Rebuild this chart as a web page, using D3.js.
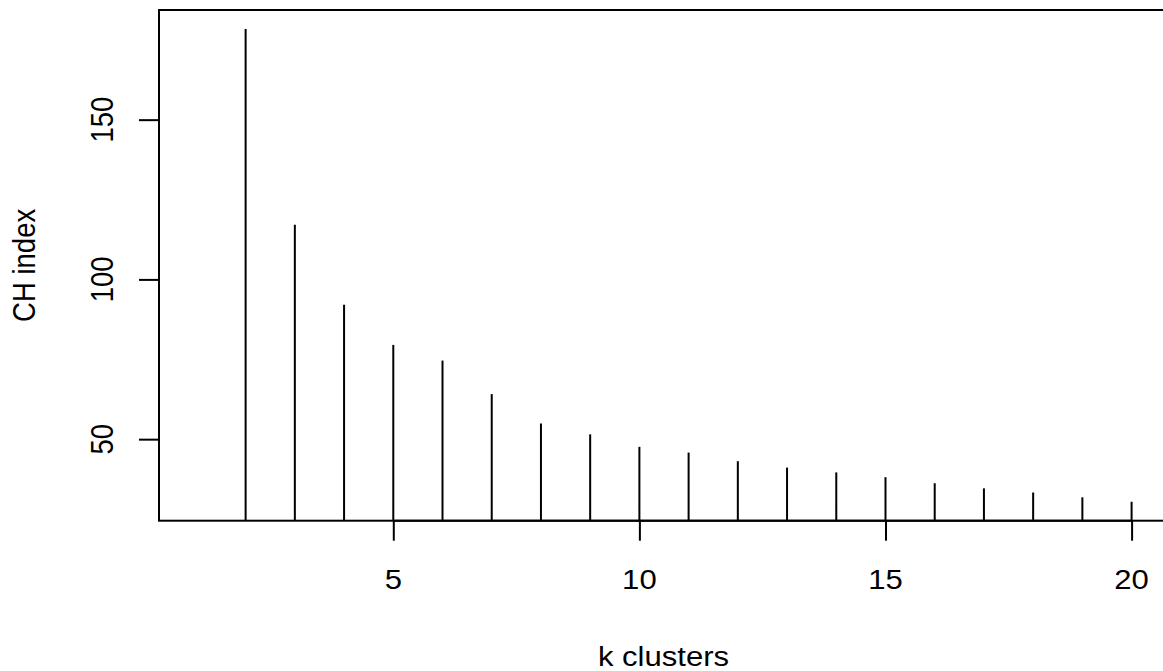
<!DOCTYPE html>
<html>
<head>
<meta charset="utf-8">
<script src="https://cdn.jsdelivr.net/npm/d3@7"></script>
<style>
  html, body { margin: 0; padding: 0; background: #ffffff; }
  svg { display: block; }
  text { font-family: "Liberation Sans", Arial, Helvetica, sans-serif; fill: #000; }
</style>
</head>
<body>
<svg id="chart" width="1163" height="671"></svg>
<script>
// Data: Calinski-Harabasz index per number of clusters (k = 1 undefined)
const kValues = [1, 2, 3, 4, 5, 6, 7, 8, 9, 10, 11, 12, 13, 14, 15, 16, 17, 18, 19, 20];
const chIndex = [null, 178.4, 117.1, 92.1, 79.5, 74.6, 64.1, 54.9, 51.5, 47.6, 45.8, 43.1, 41.1, 39.6, 38.1, 36.2, 34.6, 33.3, 31.8, 30.4];
const xTicks = [5, 10, 15, 20];
const yTicks = [50, 100, 150];
const xTitle = "k clusters";
const yTitle = "CH index";

const svg = d3.select("#chart");
const plot = { left: 159, right: 1169, top: 10, bottom: 520.7 };
const fontSize = 27.5, stretch = 1.13;

function pad(ext) { const d = (ext[1] - ext[0]) * 0.04; return [ext[0] - d, ext[1] + d]; }
const valid = chIndex.filter(v => v != null);

const x = d3.scaleLinear().domain(pad(d3.extent(kValues))).range([plot.left, plot.right]);
const y = d3.scaleLinear().domain(pad(d3.extent(valid))).range([plot.bottom, plot.top]);

svg.append("defs").append("clipPath").attr("id", "clip")
  .append("rect").attr("x", plot.left).attr("y", plot.top)
  .attr("width", plot.right - plot.left).attr("height", plot.bottom - plot.top);

// Bars (type = "h")
const pts = kValues.map((k, i) => ({ k, v: chIndex[i] })).filter(d => d.v != null);
svg.append("g").attr("clip-path", "url(#clip)")
  .selectAll("line").data(pts).join("line")
  .attr("x1", d => x(d.k)).attr("x2", d => x(d.k))
  .attr("y1", y(0)).attr("y2", d => y(d.v))
  .attr("stroke", "#000").attr("stroke-width", 2);

// Box
svg.append("rect").attr("x", plot.left).attr("y", plot.top)
  .attr("width", plot.right - plot.left).attr("height", plot.bottom - plot.top)
  .attr("fill", "none").attr("stroke", "#000").attr("stroke-width", 2);

// X axis
const xAxis = d3.axisBottom(x).tickValues(xTicks).tickSize(20).tickFormat("");
const gx = svg.append("g").attr("transform", `translate(0,${plot.bottom})`).call(xAxis);
gx.select(".domain").attr("d", `M${x(xTicks[0])},0H${x(xTicks[xTicks.length-1])}`).attr("stroke-width", 2);
gx.selectAll(".tick line").attr("stroke-width", 2);
svg.append("g").selectAll("text").data(xTicks).join("text")
  .attr("transform", d => `translate(${x(d)},589) scale(${stretch},1)`)
  .attr("text-anchor", "middle").attr("font-size", fontSize).text(d => d);

// Y axis
const yAxis = d3.axisLeft(y).tickValues(yTicks).tickSize(20).tickFormat("");
const gy = svg.append("g").attr("transform", `translate(${plot.left},0)`).call(yAxis);
gy.select(".domain").attr("d", `M0,${y(yTicks[0])}V${y(yTicks[yTicks.length-1])}`).attr("stroke-width", 2);
gy.selectAll(".tick line").attr("stroke-width", 2);
svg.append("g").selectAll("text").data(yTicks).join("text")
  .attr("transform", d => `translate(113,${y(d)}) scale(${stretch},1) rotate(-90)`)
  .attr("text-anchor", "middle").attr("font-size", fontSize).text(d => d);

// Titles
svg.append("text")
  .attr("transform", `translate(${(plot.left + plot.right) / 2 - 0.5},666) scale(${stretch},1)`)
  .attr("text-anchor", "middle").attr("font-size", fontSize).text(xTitle);
svg.append("text")
  .attr("transform", `translate(35,${(plot.top + plot.bottom) / 2}) scale(${stretch},1) rotate(-90)`)
  .attr("text-anchor", "middle").attr("font-size", fontSize).text(yTitle);
</script>
</body>
</html>
